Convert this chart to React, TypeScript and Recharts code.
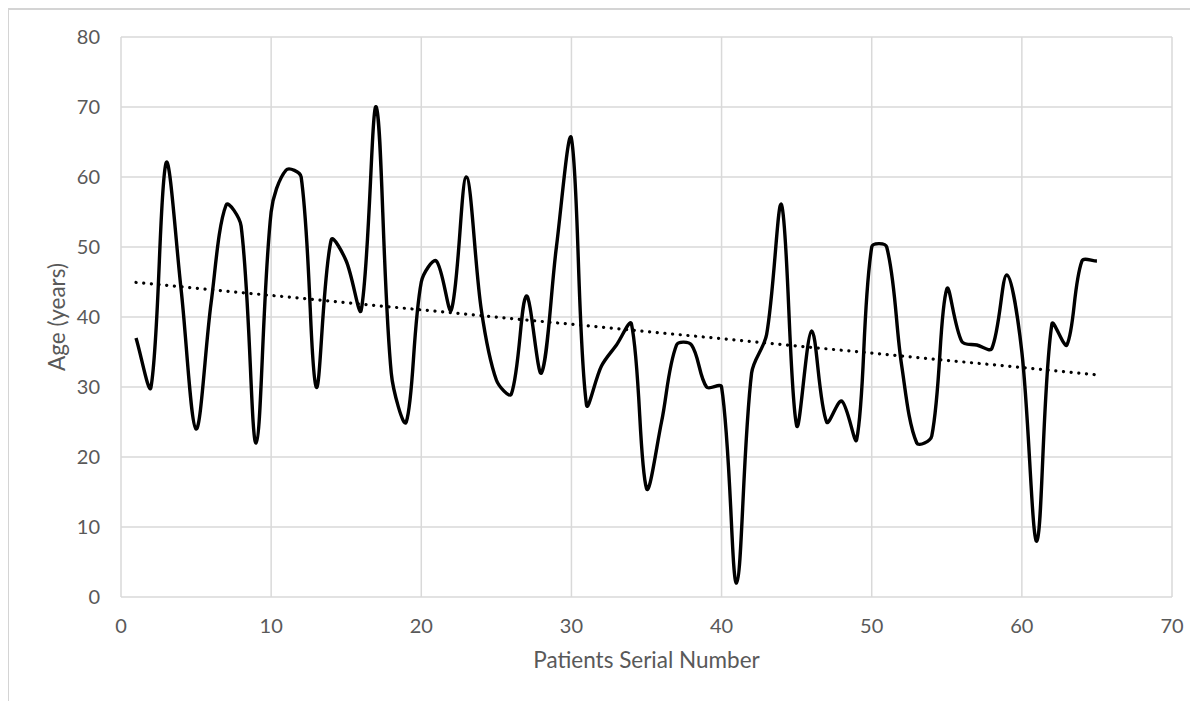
import { LineChart, Line, XAxis, YAxis, CartesianGrid } from "recharts";

// patient serial numbers 1..65 and the ages
const serials = [
  1, 2, 3, 4, 5, 6, 7, 8, 9, 10, 11, 12, 13, 14, 15, 16, 17, 18, 19, 20, 21, 22, 23, 24, 25, 26, 27, 28, 29, 30, 31, 32,
  33, 34, 35, 36, 37, 38, 39, 40, 41, 42, 43, 44, 45, 46, 47, 48, 49, 50, 51, 52, 53, 54, 55, 56, 57, 58, 59, 60, 61,
  62, 63, 64, 65,
];
const ages = [
  37, 30, 62, 44, 24, 42, 56, 53, 22, 55, 61, 60, 30, 51, 48, 41, 70, 32, 25, 45, 48, 41, 60, 41, 31, 29, 43, 32, 50,
  65.5, 27.5, 33, 36, 39, 15.5, 25, 36, 36, 30, 30, 2, 32, 37.5, 56, 24.5, 38, 25, 28, 22.5, 50, 50, 33, 22, 23, 44,
  36.5, 36, 35.5, 46, 35, 8, 39, 36, 48, 48,
];
const xTicks = [0, 10, 20, 30, 40, 50, 60, 70];
const yTicks = [0, 10, 20, 30, 40, 50, 60, 70, 80];

// linear trendline (least squares), like Excel's
const n = serials.length;
const mx = serials.reduce((a, b) => a + b, 0) / n;
const my = ages.reduce((a, b) => a + b, 0) / n;
let sxy = 0;
let sxx = 0;
serials.forEach((x, i) => {
  sxy += (x - mx) * (ages[i] - my);
  sxx += (x - mx) * (x - mx);
});
const slope = sxy / sxx;
const intercept = my - slope * mx;

const data = serials.map((x, i) => ({ x, age: ages[i], trend: intercept + slope * x }));

// Excel-style smoothed line: beziers with tangents scaled by segment length
const smoothCurve = (context: any) => {
  let pts: [number, number][] = [];
  const dist = (a: number[], b: number[]) => Math.hypot(b[0] - a[0], b[1] - a[1]);
  return {
    areaStart() {},
    areaEnd() {},
    lineStart() {
      pts = [];
    },
    point(x: number, y: number) {
      pts.push([+x, +y]);
    },
    lineEnd() {
      if (!pts.length) return;
      context.moveTo(pts[0][0], pts[0][1]);
      for (let i = 0; i < pts.length - 1; i++) {
        const p0 = pts[i - 1] || pts[i];
        const p1 = pts[i];
        const p2 = pts[i + 1];
        const p3 = pts[i + 2] || p2;
        const d01 = dist(p0, p1);
        const d12 = dist(p1, p2);
        const d23 = dist(p2, p3);
        const f1 = d01 + d12 > 0 ? d12 / (3 * (d01 + d12)) : 0;
        const f2 = d12 + d23 > 0 ? d12 / (3 * (d12 + d23)) : 0;
        context.bezierCurveTo(
          p1[0] + (p2[0] - p0[0]) * f1,
          p1[1] + (p2[1] - p0[1]) * f1,
          p2[0] - (p3[0] - p1[0]) * f2,
          p2[1] - (p3[1] - p1[1]) * f2,
          p2[0],
          p2[1]
        );
      }
    },
  };
};

const font = "Lato, 'Open Sans', sans-serif";
const grey = "#595959";

export default function App() {
  return (
    <div style={{ position: "relative", width: 1190, height: 693, fontFamily: font }}>
      <div
        style={{
          position: "absolute",
          top: -1,
          left: -2,
          right: 0,
          bottom: 0,
          borderTop: "3px solid #d4d4d4",
          borderLeft: "3px solid #d4d4d4",
        }}
      />
      <LineChart
        width={1190}
        height={693}
        data={data}
        margin={{ top: 29, right: 26, left: 43, bottom: 24 }}
      >
        <CartesianGrid stroke="#d9d9d9" strokeWidth={1.5} />
        <XAxis
          dataKey="x"
          type="number"
          domain={[0, 70]}
          ticks={xTicks}
          height={80}
          axisLine={false}
          tickLine={false}
          tickSize={0}
          tickMargin={22}
          tick={{ fontSize: 20, fill: grey, fontFamily: font }}
          label={{
            value: "Patients Serial Number",
            position: "insideBottom",
            offset: 9,
            style: { fontSize: 22.5, fill: grey, fontFamily: font },
          }}
        />
        <YAxis
          type="number"
          domain={[0, 80]}
          ticks={yTicks}
          width={70}
          axisLine={false}
          tickLine={false}
          tickSize={0}
          tickMargin={21}
          tick={{ fontSize: 20, fill: grey, fontFamily: font }}
          label={{
            value: "Age (years)",
            angle: -90,
            position: "insideLeft",
            offset: 6,
            style: { fontSize: 22.5, fill: grey, fontFamily: font, textAnchor: "middle" },
          }}
        />
        <Line
          dataKey="trend"
          type="linear"
          stroke="#000"
          strokeWidth={3.2}
          strokeDasharray="0.1 7.6"
          strokeLinecap="round"
          dot={false}
          activeDot={false}
          isAnimationActive={false}
        />
        <Line
          dataKey="age"
          type={smoothCurve as any}
          stroke="#000"
          strokeWidth={3.4}
          dot={false}
          activeDot={false}
          isAnimationActive={false}
        />
      </LineChart>
    </div>
  );
}
